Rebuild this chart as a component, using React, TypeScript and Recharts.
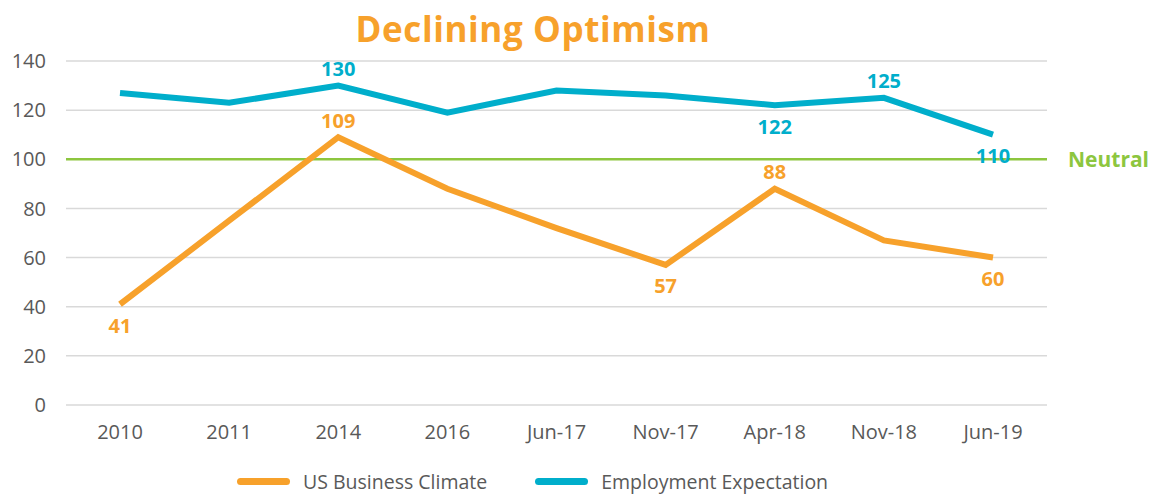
import { LineChart, Line, XAxis, YAxis, CartesianGrid, ReferenceLine, LabelList } from 'recharts';

const categories = ['2010', '2011', '2014', '2016', 'Jun-17', 'Nov-17', 'Apr-18', 'Nov-18', 'Jun-19'];
const businessClimate = [41, 75, 109, 88, 72, 57, 88, 67, 60];
const employmentExpectation = [127, 123, 130, 119, 128, 126, 122, 125, 110];
const yTicks = [0, 20, 40, 60, 80, 100, 120, 140];
const neutralLevel = 100;

// which points get a value label, and where ('up' / 'down')
const businessLabels = ['down', '', 'up', '', '', 'down', 'up', '', 'down'];
const employmentLabels = ['', '', 'up', '', '', '', 'down', 'up', 'down'];

const ORANGE = '#F7A12B';
const BLUE = '#00AECB';
const GREEN = '#8DC63F';
const GRAY = '#595959';
const FONT = "'Open Sans', 'Liberation Sans', sans-serif";

const data = categories.map((c, i) => ({
  name: c,
  business: businessClimate[i],
  employment: employmentExpectation[i],
}));

const makeLabel = (placement: string[], color: string) => (props: any) => {
  const { x, y, value, index } = props;
  const where = placement[index];
  if (!where) return null;
  return (
    <text
      x={x}
      y={where === 'up' ? y - 17 : y + 21}
      textAnchor="middle"
      dominantBaseline="central"
      fill={color}
      fontFamily={FONT}
      fontWeight={700}
      fontSize={20}
    >
      {value}
    </text>
  );
};

const legendItems = [
  { label: 'US Business Climate', color: ORANGE },
  { label: 'Employment Expectation', color: BLUE },
];

const App = () => {
  return (
    <div style={{ position: 'absolute', left: 0, top: 0, width: 1154, height: 494, background: '#fff', overflow: 'hidden' }}>
      <div
        style={{
          position: 'absolute',
          left: 0,
          width: 1066,
          top: 5,
          textAlign: 'center',
          fontFamily: FONT,
          fontWeight: 700,
          fontSize: 35,
          color: ORANGE,
          letterSpacing: 0.6,
        }}
      >
        Declining Optimism
      </div>
      <LineChart width={1154} height={494} data={data} margin={{ top: 61, right: 107, bottom: 59, left: 0 }}>
        <CartesianGrid vertical={false} stroke="#D9D9D9" strokeWidth={1.5} />
        <XAxis
          dataKey="name"
          height={30}
          axisLine={false}
          tickLine={false}
          tickSize={0}
          tickMargin={20}
          padding={{ left: 54, right: 54 }}
          tick={{ fill: GRAY, fontSize: 20, fontFamily: FONT }}
        />
        <YAxis
          width={66}
          domain={[0, 140]}
          ticks={yTicks}
          axisLine={false}
          tickLine={false}
          tickSize={0}
          tickMargin={20}
          tick={{ fill: GRAY, fontSize: 20, fontFamily: FONT }}
        />
        <ReferenceLine
          y={neutralLevel}
          stroke={GREEN}
          strokeWidth={2.5}
          label={{ value: 'Neutral', position: 'right', fill: GREEN, fontSize: 21, fontWeight: 700, fontFamily: FONT, offset: 21 }}
        />
        <Line
          dataKey="business"
          stroke={ORANGE}
          strokeWidth={6}
          dot={false}
          isAnimationActive={false}
        >
          <LabelList dataKey="business" content={makeLabel(businessLabels, ORANGE)} />
        </Line>
        <Line
          dataKey="employment"
          stroke={BLUE}
          strokeWidth={6}
          dot={false}
          isAnimationActive={false}
        >
          <LabelList dataKey="employment" content={makeLabel(employmentLabels, BLUE)} />
        </Line>
      </LineChart>
      <div
        style={{
          position: 'absolute',
          left: 237,
          top: 468,
          display: 'flex',
          gap: 48,
          fontFamily: FONT,
          fontSize: 19.5,
          color: GRAY,
          whiteSpace: 'nowrap',
        }}
      >
        {legendItems.map((item) => (
          <div key={item.label} style={{ display: 'flex', alignItems: 'center' }}>
            <div style={{ width: 53, height: 7, borderRadius: 4, background: item.color, marginRight: 13 }} />
            <span>{item.label}</span>
          </div>
        ))}
      </div>
    </div>
  );
};

export default App;
